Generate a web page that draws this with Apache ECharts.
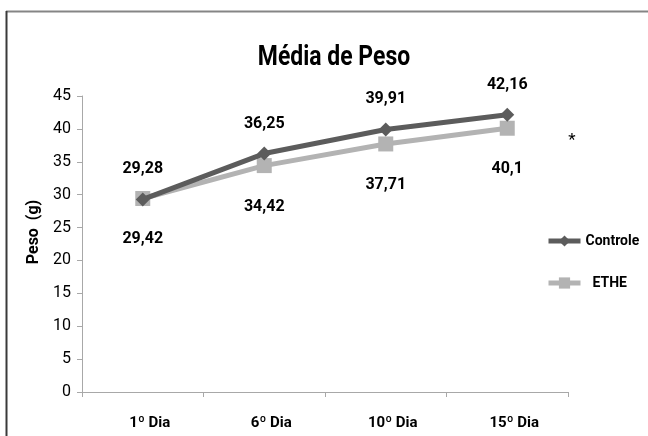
<!DOCTYPE html>
<html>
<head>
<meta charset="utf-8">
<style>
  html, body { margin: 0; padding: 0; background: #fff; }
  #chart { width: 648px; height: 436px; }
</style>
<script src="https://cdn.jsdelivr.net/npm/echarts@6/dist/echarts.min.js"></script>
</head>
<body>
<div id="chart"></div>
<script>
// Weight averages (g) per day of measurement
const categories = ['1º Dia', '6º Dia', '10º Dia', '15º Dia'];
const controle = [29.28, 36.25, 39.91, 42.16];
const ethe = [29.42, 34.42, 37.71, 40.1];
const yTicks = { min: 0, max: 45, interval: 5 };

const FONT = 'Roboto, "Liberation Sans", sans-serif';
const fmt = v => String(v).replace('.', ',');

const chart = echarts.init(document.getElementById('chart'), null, { renderer: 'canvas' });

chart.setOption({
  backgroundColor: '#ffffff',
  animation: false,
  grid: { left: 82, right: 80, top: 96, bottom: 44 },
  legend: {
    orient: 'vertical',
    left: 541,
    top: 229,
    itemGap: 28,
    itemWidth: 32,
    itemHeight: 14,
    lineStyle: { width: 5 },
    formatter: name => (name === 'ETHE' ? '  ' + name : name),
    textStyle: { fontFamily: FONT, fontSize: 14, fontWeight: 'bold', color: '#000' },
    data: ['Controle', 'ETHE']
  },
  xAxis: {
    type: 'category',
    data: categories,
    boundaryGap: true,
    axisLine: { lineStyle: { color: '#a8a8a8', width: 1 } },
    axisTick: { show: true, length: 5, lineStyle: { color: '#a8a8a8' } },
    axisLabel: {
      margin: 24, padding: [0, 0, 0, 14],
      fontFamily: FONT, fontSize: 15, fontWeight: 'bold', color: '#000'
    },
    splitLine: { show: false }
  },
  yAxis: {
    type: 'value',
    min: yTicks.min,
    max: yTicks.max,
    interval: yTicks.interval,
    axisLine: { show: true, lineStyle: { color: '#a8a8a8', width: 1 } },
    axisTick: { show: true, length: 5, lineStyle: { color: '#a8a8a8' } },
    axisLabel: { margin: 11, fontFamily: FONT, fontSize: 16, color: '#000' },
    splitLine: { show: false }
  },
  series: [
    {
      name: 'Controle',
      type: 'line',
      data: controle,
      symbol: 'diamond',
      symbolSize: 14,
      lineStyle: { color: '#5c5c5c', width: 5 },
      itemStyle: { color: '#5c5c5c' },
      z: 3,
      label: {
        show: true,
        position: 'inside',
        offset: [0, -30],
        formatter: p => fmt(p.value),
        fontFamily: FONT, fontSize: 16, fontWeight: 'bold', color: '#000'
      }
    },
    {
      name: 'ETHE',
      type: 'line',
      data: ethe,
      symbol: 'rect',
      symbolSize: 15,
      lineStyle: { color: '#b3b3b3', width: 5 },
      itemStyle: { color: '#b3b3b3' },
      z: 2,
      label: {
        show: true,
        position: 'inside',
        offset: [0, 41],
        formatter: p => fmt(p.value),
        fontFamily: FONT, fontSize: 16, fontWeight: 'bold', color: '#000'
      }
    }
  ],
  graphic: [
    // outer frame: top and left edges
    { type: 'line', shape: { x1: 6, y1: 11.5, x2: 648, y2: 11.5 }, style: { stroke: '#858585', lineWidth: 2 } },
    { type: 'line', shape: { x1: 6.5, y1: 11, x2: 6.5, y2: 436 }, style: { stroke: '#3a3a3a', lineWidth: 2 } },
    // chart title (condensed bold)
    {
      type: 'text', x: 334, y: 58, scaleX: 0.85, originX: 0, originY: 0,
      style: {
        text: 'Média de Peso', fontFamily: FONT, fontSize: 27, fontWeight: 'bold',
        fill: '#000', align: 'center', verticalAlign: 'middle'
      }
    },
    // vertical axis title
    {
      type: 'text', x: 34, y: 232, rotation: Math.PI / 2,
      style: {
        text: 'Peso  (g)', fontFamily: FONT, fontSize: 16, fontWeight: 'bold',
        fill: '#000', align: 'center', verticalAlign: 'middle'
      }
    },
    // significance marker
    { type: 'text', x: 572, y: 141, style: { text: '*', fontFamily: FONT, fontSize: 17, fill: '#000', align: 'center', verticalAlign: 'middle' } }
  ]
});
</script>
</body>
</html>
